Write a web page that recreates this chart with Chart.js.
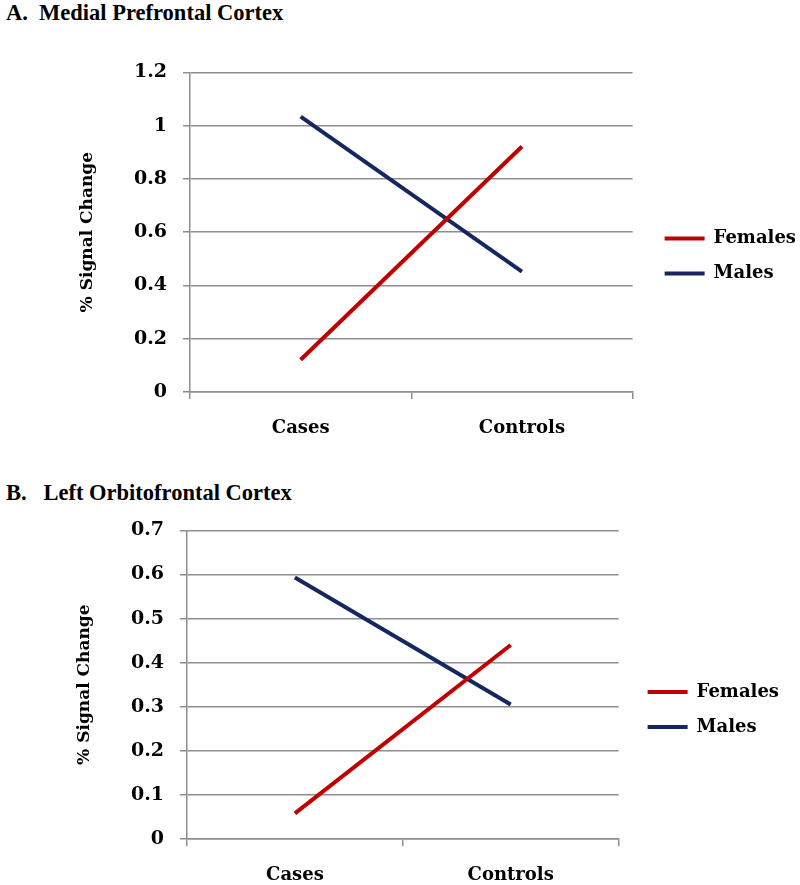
<!DOCTYPE html>
<html>
<head>
<meta charset="utf-8">
<script src="https://cdn.jsdelivr.net/npm/chart.js@4/dist/chart.umd.min.js"></script>
<style>
  html, body { margin: 0; padding: 0; background: #fff; }
  body { width: 800px; height: 885px; position: relative; overflow: hidden; }
  .panel-title {
    position: absolute; left: 6px;
    font-family: "Liberation Serif", "Times New Roman", serif;
    font-weight: bold; font-size: 22.5px; color: #000; white-space: pre;
  }
  .holder { position: absolute; left: 0; width: 810px; }
</style>
</head>
<body>
<div class="panel-title" style="top:0px">A.  Medial Prefrontal Cortex</div>
<div class="holder" style="top:45px;height:399px"><canvas id="chartA"></canvas></div>
<div class="panel-title" style="top:480px">B.   Left Orbitofrontal Cortex</div>
<div class="holder" style="top:503px;height:388px"><canvas id="chartB"></canvas></div>
<script>
"use strict";

const categories = ["Cases", "Controls"];
const seriesNames = ["Females", "Males"];

// panel A: medial prefrontal cortex
const femalesA = [0.121, 0.922];
const malesA = [1.034, 0.452];

// panel B: left orbitofrontal cortex
const femalesB = [0.058, 0.440];
const malesB = [0.593, 0.305];

const COLORS = ["#c00000", "#14285f"];
const GRID = "#8e8e8e";
const LABEL_FONT = { family: "'DejaVu Serif', serif", weight: "bold", size: 18 };
const YTICK_FONT = { family: "'DejaVu Serif', serif", weight: "bold", size: 19 };

function fmtTick(value) {
  return Number(value.toFixed(2)).toString();
}

// push the legend a few px further from the plot than chart.js would
function legendShift(px) {
  return {
    id: "legendShift",
    afterLayout: function (chart) {
      if (chart.legend) {
        chart.legend.left += px;
        chart.legend.right += px;
      }
    }
  };
}

function makeChart(canvas, females, males, yMax, yStep, pad, shift) {
  const datasets = [females, males].map(function (values, i) {
    return {
      label: seriesNames[i],
      data: values,
      borderColor: COLORS[i],
      backgroundColor: COLORS[i],
      borderWidth: 4,
      pointRadius: 0,
      tension: 0,
      fill: false
    };
  });

  return new Chart(canvas.getContext("2d"), {
    type: "line",
    data: { labels: categories, datasets: datasets },
    plugins: [legendShift(shift)],
    options: {
      responsive: true,
      maintainAspectRatio: false,
      animation: false,
      layout: { padding: pad },
      plugins: {
        tooltip: { enabled: false },
        legend: {
          position: "right",
          labels: {
            usePointStyle: true,
            pointStyle: "line",
            pointStyleWidth: 40,
            padding: 17,
            color: "#000",
            font: LABEL_FONT
          }
        }
      },
      scales: {
        x: {
          offset: true,
          grid: {
            offset: true,
            drawOnChartArea: false,
            drawTicks: true,
            tickLength: 7,
            color: GRID,
            lineWidth: 1.5
          },
          border: { color: GRID, width: 1.5 },
          ticks: { color: "#000", font: LABEL_FONT, padding: 19 },
          afterFit: function (scale) { scale.height = 52; }
        },
        y: {
          min: 0,
          max: yMax,
          grid: { color: GRID, lineWidth: 1.5, tickLength: 7 },
          border: { color: GRID, width: 1.5 },
          ticks: {
            stepSize: yStep, color: "#000", font: YTICK_FONT, padding: 16,
            callback: fmtTick
          },
          title: {
            display: true,
            text: "% Signal Change",
            color: "#000",
            font: { family: "'DejaVu Serif', serif", weight: "bold", size: 17 },
            padding: { top: 17, bottom: 0 }
          },
          afterFit: function (scale) { scale.width = 130; }
        }
      }
    }
  });
}

makeChart(document.getElementById("chartA"), femalesA, malesA, 1.2, 0.2,
          { left: 60, top: 23, right: 19, bottom: 0 }, 15);
makeChart(document.getElementById("chartB"), femalesB, malesB, 0.7, 0.1,
          { left: 57, top: 25, right: 33, bottom: 0 }, 12);
</script>
</body>
</html>
